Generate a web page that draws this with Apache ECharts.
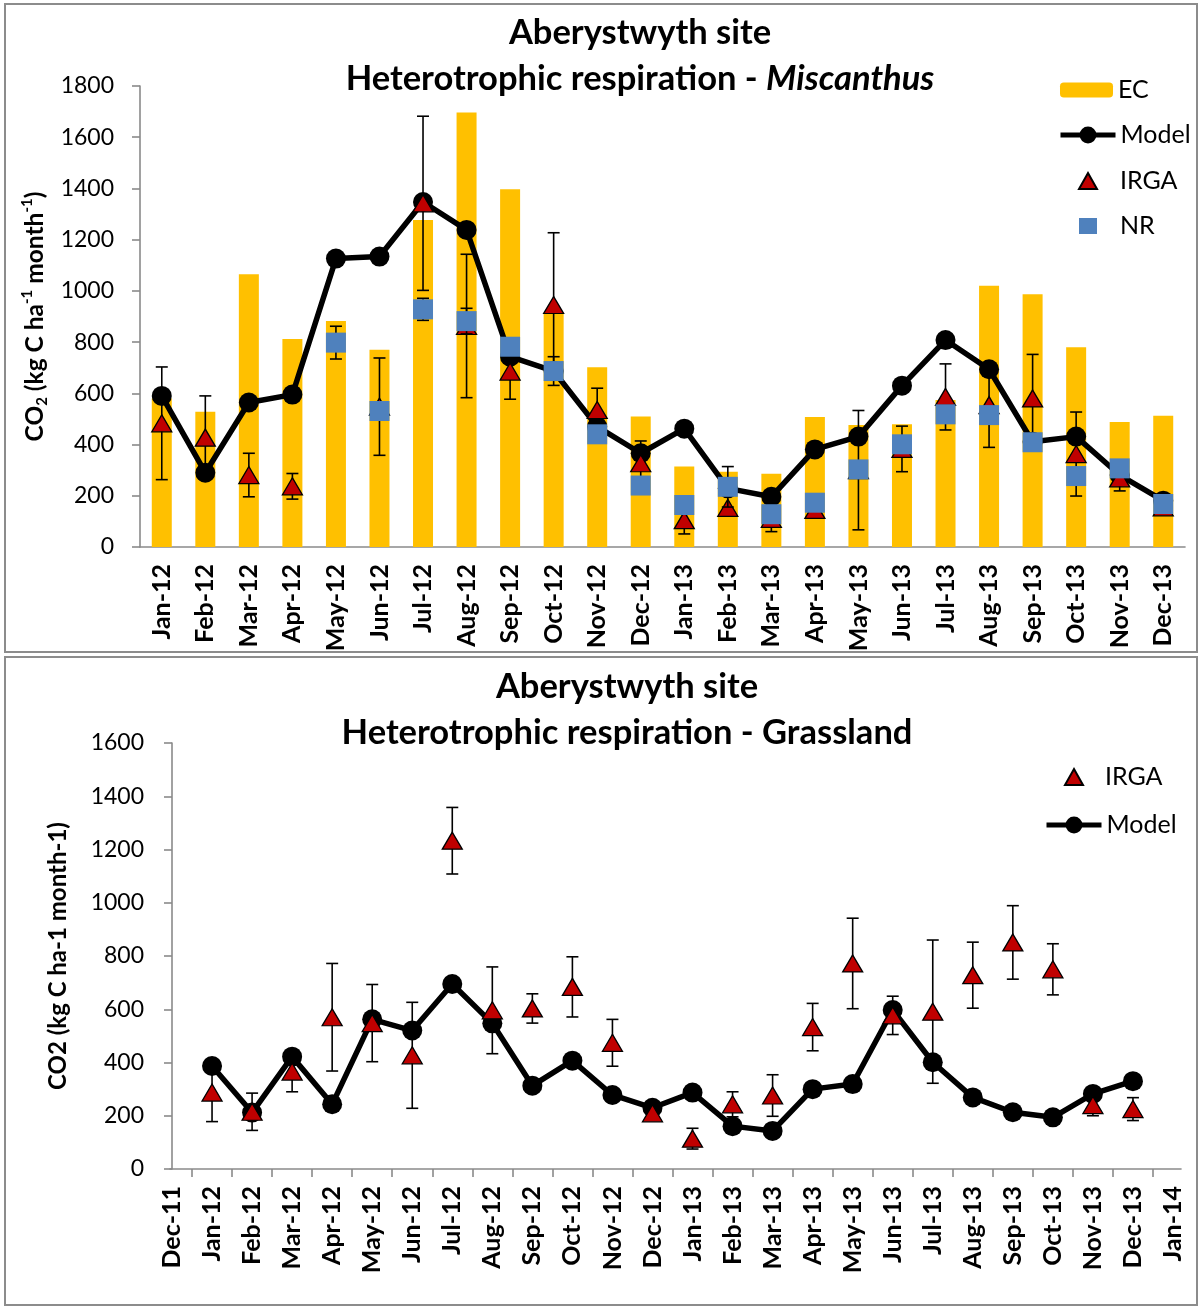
<!DOCTYPE html>
<html><head><meta charset="utf-8">
<script src="https://cdn.jsdelivr.net/npm/echarts@6/dist/echarts.min.js"></script>
<style>html,body{margin:0;padding:0;background:#fff}#c{width:1198px;height:1307px}</style>
</head><body><div id="c"></div>
<script>
// ---------- DATA ----------
const monthsTop = ['Jan-12','Feb-12','Mar-12','Apr-12','May-12','Jun-12','Jul-12','Aug-12','Sep-12','Oct-12','Nov-12','Dec-12',
                   'Jan-13','Feb-13','Mar-13','Apr-13','May-13','Jun-13','Jul-13','Aug-13','Sep-13','Oct-13','Nov-13','Dec-13'];
const monthsBottom = ['Dec-11','Jan-12','Feb-12','Mar-12','Apr-12','May-12','Jun-12','Jul-12','Aug-12','Sep-12','Oct-12','Nov-12','Dec-12',
                   'Jan-13','Feb-13','Mar-13','Apr-13','May-13','Jun-13','Jul-13','Aug-13','Sep-13','Oct-13','Nov-13','Dec-13','Jan-14'];
const yTicksTop = [0,200,400,600,800,1000,1200,1400,1600,1800];
const yTicksBottom = [0,200,400,600,800,1000,1200,1400,1600];

// Miscanthus (top)
const ecTop      = [580, 528, 1065, 812, 882, 770, 1277, 1697, 1397, 913, 702, 510, 314, 294, 286, 508, 476, 479, 574, 1020, 987, 780, 488, 512];
const modelTop   = [590, 290, 564, 595, 1126, 1134, 1347, 1238, 743, 687, 470, 366, 462, 229, 196, 381, 431, 630, 808, 694, 411, 431, 281, 181];
const irgaTop    = [483, 427, 281, 237, null, 548, 1342, 863, 685, 945, 535, 327, 105, 153, 110, 145, 300, 383, 586, 554, 580, 363, 268, 155];
const irgaTopErr = [220, 163, 85, 50, null, 190, 340, 280, 108, 282, 85, 87, 54, null, 50, null, 233, 89, 129, 165, 172, 164, 49, null];
const nrTop      = [null, null, null, null, 798, 531, 928, 882, 782, 687, 440, 240, 164, 235, 128, 173, 303, 401, 518, 515, 409, 277, 307, 168];
const nrTopErr   = [null, null, null, null, 64, null, 43, 50, null, 56, null, null, null, 79, null, null, null, null, null, null, null, null, null, null];

// Grassland (bottom), Jan-12 .. Dec-13
const modelBottom   = [387, 212, 422, 243, 562, 520, 695, 547, 313, 407, 278, 230, 287, 161, 143, 300, 319, 597, 401, 269, 213, 194, 282, 330];
const irgaBottom    = [287, 215, 366, 570, 548, 427, 1233, 596, 603, 684, 474, 209, 114, 243, 276, 533, 772, 577, 591, 728, 851, 750, 240, 225];
const irgaBottomErr = [109, 70, 76, 202, 145, 199, 125, 163, 55, 113, 88, null, 39, 47, 78, 89, 170, 72, 269, 124, 138, 96, 40, 43];

// ---------- BUILD ----------
const FONT = 'Lato, "Liberation Sans", sans-serif';
const AX = '#8a8a8a';
const idxBottom = m => monthsBottom.indexOf(m);

function errData(vals, errs, xOf) {
  const out = [];
  vals.forEach((v, i) => {
    if (v == null || errs[i] == null) return;
    out.push([xOf(i), v - errs[i], v + errs[i]]);
  });
  return out;
}
function errRender(params, api) {
  const x = api.value(0), lo = api.value(1), hi = api.value(2);
  const a = api.coord([x, hi]), b = api.coord([x, lo]);
  const cap = 6, st = {stroke: '#000', lineWidth: 1.6};
  return {type: 'group', children: [
    {type: 'line', shape: {x1: a[0], y1: a[1], x2: b[0], y2: b[1]}, style: st},
    {type: 'line', shape: {x1: a[0] - cap, y1: a[1], x2: a[0] + cap, y2: a[1]}, style: st},
    {type: 'line', shape: {x1: b[0] - cap, y1: b[1], x2: b[0] + cap, y2: b[1]}, style: st}
  ]};
}

const topX = i => i;
const botX = i => idxBottom(monthsTop[i]);

const triStyle = {color: '#C00000', borderColor: '#000', borderWidth: 1.3, opacity: 1};
const sqStyle = {color: '#4F81BD', opacity: 1};
const LEG_TS = {fontFamily: FONT, fontSize: 25, color: '#000', lineHeight: 26};

const option = {
  animation: false,
  backgroundColor: '#fff',
  textStyle: {fontFamily: FONT},
  graphic: [
    {type: 'rect', shape: {x: 5, y: 4, width: 1192, height: 648}, style: {fill: 'none', stroke: '#8c8c8c', lineWidth: 2}, silent: true},
    {type: 'rect', shape: {x: 5, y: 657, width: 1192, height: 648}, style: {fill: 'none', stroke: '#8c8c8c', lineWidth: 2}, silent: true}
  ],
  title: [
    {text: 'Aberystwyth site\nHeterotrophic respiration - {i|Miscanthus}', left: 640, top: 10, textAlign: 'center', padding: 0,
     textStyle: {fontFamily: FONT, fontSize: 34.5, fontWeight: 'bold', color: '#000', lineHeight: 46,
       rich: {i: {fontFamily: FONT, fontSize: 34.5, fontWeight: 'bold', fontStyle: 'italic', color: '#000', lineHeight: 46}}}},
    {text: 'Aberystwyth site\nHeterotrophic respiration - Grassland', left: 627, top: 664, textAlign: 'center', padding: 0,
     textStyle: {fontFamily: FONT, fontSize: 34.5, fontWeight: 'bold', color: '#000', lineHeight: 46}}
  ],
  legend: [
    {data: ['EC'], orient: 'vertical', left: 1060, top: 77, padding: 0, itemWidth: 53, itemHeight: 15, selectedMode: false, textStyle: LEG_TS},
    {data: ['Model'], orient: 'vertical', left: 1058, top: 122, padding: 0, itemWidth: 55, itemHeight: 21, selectedMode: false,
     lineStyle: {width: 5}, textStyle: LEG_TS},
    {data: ['IRGA', 'NR'], orient: 'vertical', left: 1078, top: 168, padding: 0, itemWidth: 18, itemHeight: 16, itemGap: 19, selectedMode: false,
     textStyle: Object.assign({}, LEG_TS, {padding: [0, 0, 0, 18]})},
    {data: ['IRGA'], orient: 'vertical', left: 1064, top: 764, padding: 0, itemWidth: 18, itemHeight: 16, selectedMode: false,
     textStyle: Object.assign({}, LEG_TS, {padding: [0, 0, 0, 17]})},
    {data: ['Model'], orient: 'vertical', left: 1044, top: 812, padding: 0, itemWidth: 55, itemHeight: 21, selectedMode: false,
     lineStyle: {width: 5}, textStyle: LEG_TS}
  ],
  grid: [
    {left: 140, top: 86, width: 1045, height: 461},
    {left: 170, top: 743, width: 1011, height: 426}
  ],
  xAxis: [
    {type: 'category', gridIndex: 0, data: monthsTop, boundaryGap: true,
     axisLine: {lineStyle: {color: AX, width: 1.6}}, axisTick: {length: 8, lineStyle: {color: AX, width: 1.6}},
     axisLabel: {interval: 0, rotate: 90, margin: 17, fontFamily: FONT, fontSize: 25, fontWeight: 'bold', color: '#000'}},
    {type: 'value', gridIndex: 1, min: -0.05, max: 25.2,
     axisLine: {lineStyle: {color: AX, width: 1.6}},
     axisTick: {show: true, length: 8, customValues: monthsBottom.slice(1).map((m, i) => i + 0.5), lineStyle: {color: AX, width: 1.6}},
     splitLine: {show: false},
     axisLabel: {customValues: monthsBottom.map((m, i) => i), formatter: v => monthsBottom[Math.round(v)] || '',
       rotate: 90, margin: 17, fontFamily: FONT, fontSize: 25, fontWeight: 'bold', color: '#000'}}
  ],
  yAxis: [
    {type: 'value', gridIndex: 0, min: yTicksTop[0], max: yTicksTop[yTicksTop.length - 1], interval: yTicksTop[1] - yTicksTop[0],
     axisLine: {show: true, lineStyle: {color: AX, width: 1.6}}, axisTick: {show: true, length: 8, lineStyle: {color: AX, width: 1.6}},
     splitLine: {show: false},
     axisLabel: {margin: 26, fontFamily: FONT, fontSize: 23, color: '#000', formatter: v => String(v)},
     name: 'CO{sub|2} (kg C ha{sup|-1} month{sup|-1})', nameLocation: 'middle', nameGap: 86, nameRotate: 90,
     nameTextStyle: {fontFamily: FONT, fontSize: 24.5, fontWeight: 'bold', color: '#000', lineHeight: 30, verticalAlign: 'middle',
       rich: {sub: {fontFamily: FONT, fontSize: 15, fontWeight: 'bold', color: '#000', verticalAlign: 'bottom', lineHeight: 15},
              sup: {fontFamily: FONT, fontSize: 15, fontWeight: 'bold', color: '#000', verticalAlign: 'top', lineHeight: 15}}}},
    {type: 'value', gridIndex: 1, min: yTicksBottom[0], max: yTicksBottom[yTicksBottom.length - 1], interval: yTicksBottom[1] - yTicksBottom[0],
     axisLine: {show: true, lineStyle: {color: AX, width: 1.6}}, axisTick: {show: true, length: 8, lineStyle: {color: AX, width: 1.6}},
     splitLine: {show: false},
     axisLabel: {margin: 26, fontFamily: FONT, fontSize: 23, color: '#000', formatter: v => String(v)},
     name: 'CO2 (kg C ha-1 month-1)', nameLocation: 'middle', nameGap: 100, nameRotate: 90,
     nameTextStyle: {fontFamily: FONT, fontSize: 24, fontWeight: 'bold', color: '#000'}}
  ],
  series: [
    {name: 'EC', type: 'bar', z: 1, xAxisIndex: 0, yAxisIndex: 0, data: ecTop, barWidth: 20, itemStyle: {color: '#FFC000'}},
    {name: 'Model', type: 'line', z: 2, xAxisIndex: 0, yAxisIndex: 0, data: modelTop, symbol: 'circle', symbolSize: 20,
     lineStyle: {color: '#000', width: 5.5}, itemStyle: {color: '#000'}},
    {name: 'IRGA err', type: 'custom', z: 3, xAxisIndex: 0, yAxisIndex: 0, renderItem: errRender,
     encode: {x: 0, y: [1, 2]}, data: errData(irgaTop, irgaTopErr, topX)},
    {name: 'IRGA', type: 'scatter', z: 4, xAxisIndex: 0, yAxisIndex: 0, data: irgaTop, symbol: 'triangle', symbolSize: [20, 17], itemStyle: triStyle},
    {name: 'NR err', type: 'custom', z: 5, xAxisIndex: 0, yAxisIndex: 0, renderItem: errRender,
     encode: {x: 0, y: [1, 2]}, data: errData(nrTop, nrTopErr, topX)},
    {name: 'NR', type: 'scatter', z: 6, xAxisIndex: 0, yAxisIndex: 0, data: nrTop, symbol: 'rect', symbolSize: 20, itemStyle: sqStyle},

    {name: 'Model', type: 'line', z: 2, xAxisIndex: 1, yAxisIndex: 1, data: modelBottom.map((v, i) => [botX(i), v]), symbol: 'circle', symbolSize: 20,
     lineStyle: {color: '#000', width: 5.5}, itemStyle: {color: '#000'}},
    {name: 'IRGA err b', type: 'custom', z: 3, xAxisIndex: 1, yAxisIndex: 1, renderItem: errRender,
     encode: {x: 0, y: [1, 2]}, data: errData(irgaBottom, irgaBottomErr, botX)},
    {name: 'IRGA', type: 'scatter', z: 4, xAxisIndex: 1, yAxisIndex: 1, data: irgaBottom.map((v, i) => [botX(i), v]), symbol: 'triangle', symbolSize: [20, 17], itemStyle: triStyle}
  ]
};
const chart = echarts.init(document.getElementById('c'), null, {renderer: 'canvas'});
chart.setOption(option);
</script>
</body></html>
